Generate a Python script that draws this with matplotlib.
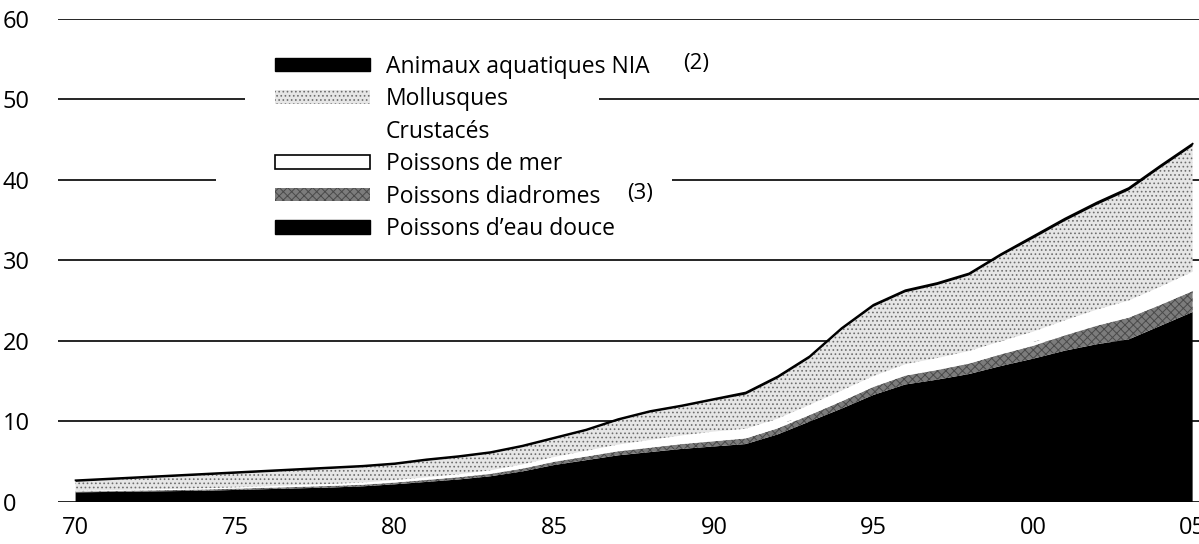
import numpy as np
import matplotlib
matplotlib.use("Agg")
import matplotlib.pyplot as plt
from matplotlib.patches import Patch

plt.rcParams["font.family"] = ["Open Sans", "DejaVu Sans"]
plt.rcParams["hatch.linewidth"] = 0.7

YEARS = list(range(1970, 2006))

# millions of tonnes, bottom to top
EAU_DOUCE = [1.2, 1.25, 1.3, 1.35, 1.4, 1.5, 1.6, 1.7, 1.8, 1.95,
             2.2, 2.5, 2.8, 3.2, 3.8, 4.6, 5.2, 5.8, 6.2, 6.6,
             6.9, 7.2, 8.4, 10.0, 11.6, 13.3, 14.6, 15.2, 15.9, 16.9,
             17.8, 18.8, 19.6, 20.2, 21.9, 23.6]
DIADROMES = [0.1, 0.1, 0.12, 0.13, 0.15, 0.15, 0.17, 0.18, 0.2, 0.2,
             0.22, 0.25, 0.28, 0.3, 0.35, 0.4, 0.45, 0.5, 0.55, 0.6,
             0.65, 0.7, 0.75, 0.8, 0.9, 1.0, 1.1, 1.2, 1.3, 1.45,
             1.6, 1.9, 2.3, 2.7, 2.6, 2.6]
POISSONS_MER = [0.05, 0.05, 0.05, 0.06, 0.06, 0.07, 0.07, 0.08, 0.08, 0.09,
                0.1, 0.11, 0.12, 0.14, 0.16, 0.2, 0.22, 0.24, 0.26, 0.28,
                0.3, 0.3, 0.31, 0.32, 0.34, 0.35, 0.37, 0.39, 0.41, 0.43,
                0.45, 0.48, 0.5, 0.53, 0.56, 0.6]
CRUSTACES = [0.05, 0.06, 0.07, 0.08, 0.09, 0.1, 0.12, 0.14, 0.16, 0.18,
             0.2, 0.22, 0.25, 0.3, 0.35, 0.4, 0.5, 0.6, 0.7, 0.8,
             0.9, 0.9, 0.9, 0.95, 1.0, 1.0, 1.05, 1.1, 1.15, 1.2,
             1.3, 1.4, 1.5, 1.6, 1.7, 1.8]
MOLLUSQUES = [1.1, 1.24, 1.36, 1.48, 1.6, 1.68, 1.74, 1.8, 1.86, 1.88,
              1.88, 2.02, 2.05, 2.06, 2.14, 2.2, 2.43, 2.96, 3.39, 3.52,
              3.85, 4.25, 4.99, 5.78, 7.51, 8.6, 8.93, 9.06, 9.39, 10.57,
              11.55, 12.32, 13.0, 13.67, 14.74, 15.6]
NIA = [0.2] * 21 + [0.25] * 9 + [0.3] * 6

LABELS = ["Animaux aquatiques NIA", "Mollusques", "Crustacés",
          "Poissons de mer", "Poissons diadromes", "Poissons d\u2019eau douce"]
TICK_LABELS = ["70", "75", "80", "85", "90", "95", "00", "05"]

fig = plt.figure(figsize=(11.99, 5.44), dpi=100)
ax = fig.add_axes([0.0484, 0.0772, 0.9516, 0.888])

x = np.array(YEARS)
layers = [EAU_DOUCE, DIADROMES, POISSONS_MER, CRUSTACES, MOLLUSQUES, NIA]
styles = [
    dict(facecolor="black"),
    dict(facecolor="#7c7c7c", hatch="xxxx", edgecolor="#4a4a4a"),
    dict(facecolor="white"),
    dict(facecolor="white"),
    dict(facecolor="#e6e6e6", hatch="....", edgecolor="#6e6e6e"),
    dict(facecolor="black"),
]
base = np.zeros(len(x))
for vals, st in zip(layers, styles):
    top = base + np.array(vals)
    ax.fill_between(x, base, top, linewidth=0, zorder=3, **st)
    base = top
ax.plot(x, base, color="black", linewidth=1.3, zorder=4)

# gridlines, broken where the legend sits
x0, x1 = 1969.45, 2005.2
for y in (0, 10, 20, 30, 60):
    ax.hlines(y, x0, x1, color="black", linewidth=1.2, zorder=1)
ax.hlines(50, x0, 1975.3, color="black", linewidth=1.2, zorder=1)
ax.hlines(50, 1986.4, x1, color="black", linewidth=1.2, zorder=1)
ax.hlines(40, x0, 1974.4, color="black", linewidth=1.2, zorder=1)
ax.hlines(40, 1988.7, x1, color="black", linewidth=1.2, zorder=1)

ax.set_xlim(x0, x1)
ax.set_ylim(0, 60)
ax.set_xticks([1970, 1975, 1980, 1985, 1990, 1995, 2000, 2005])
ax.set_xticklabels(TICK_LABELS)
ax.set_yticks([0, 10, 20, 30, 40, 50, 60])
ax.tick_params(length=0, labelsize=17)
ax.tick_params(axis="x", pad=10)
ax.tick_params(axis="y", pad=40)
for lbl in ax.get_yticklabels():
    lbl.set_horizontalalignment("left")
for s in ax.spines.values():
    s.set_visible(False)

handles = [
    Patch(facecolor="black", edgecolor="black"),
    Patch(facecolor="#e6e6e6", hatch="....", edgecolor="#6e6e6e", linewidth=0),
    Patch(facecolor="white", edgecolor="white", linewidth=0),
    Patch(facecolor="white", edgecolor="black", linewidth=1.2),
    Patch(facecolor="#7c7c7c", hatch="xxxx", edgecolor="#4a4a4a", linewidth=0),
    Patch(facecolor="black", edgecolor="black"),
]
leg = ax.legend(handles, LABELS, loc="upper left", bbox_to_anchor=(0.19, 0.926),
                frameon=False, fontsize=16.5, handlelength=4.15, handleheight=0.55,
                labelspacing=0.37, handletextpad=0.68, borderaxespad=0,
                borderpad=0)
leg.set_zorder(5)

fig.text(683 / 1199, 1 - 63 / 544, "(2)", fontsize=16, va="center")
fig.text(627 / 1199, 1 - 193 / 544, "(3)", fontsize=16, va="center")

fig.savefig("out.png", dpi=100)
